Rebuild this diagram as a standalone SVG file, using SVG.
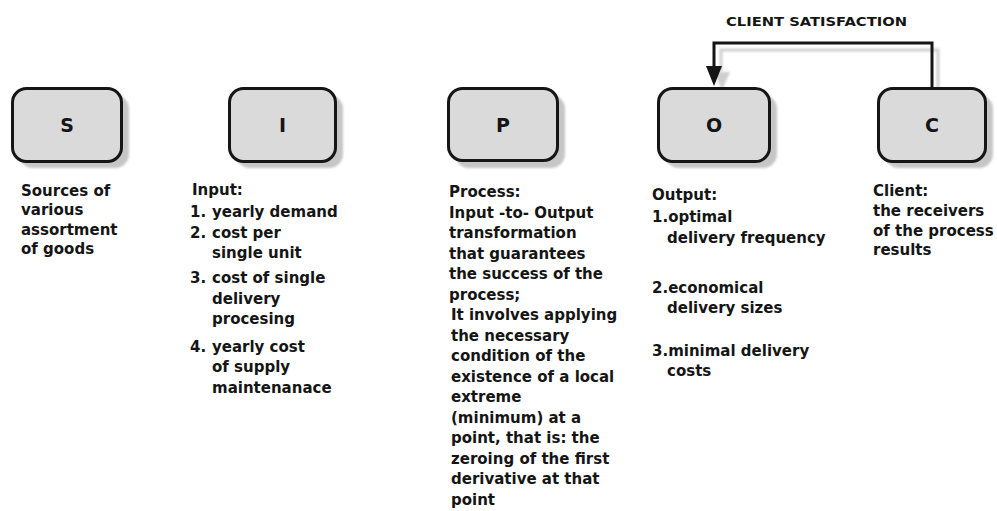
<svg xmlns="http://www.w3.org/2000/svg" width="997" height="511" viewBox="0 0 997 511">
<style>
.box{fill:#dadada;stroke:#151515;stroke-width:3}
.shadow{fill:#c6c6c6}
.letter{font-family:"DejaVu Sans",sans-serif;font-weight:bold;font-size:19px;fill:#151515;text-anchor:middle}
.t{font-family:"DejaVu Sans",sans-serif;font-weight:bold;font-size:15px;fill:#151515}
.lbl{font-family:"DejaVu Sans",sans-serif;font-weight:bold;font-size:13px;fill:#151515}
.conn{fill:none;stroke:#151515;stroke-width:3}
.connsh{fill:none;stroke:#cfcfcf;stroke-width:3}
</style>
<defs>
<filter id="blur" x="-20%" y="-20%" width="140%" height="140%"><feGaussianBlur stdDeviation="1.2"/></filter>
</defs>
<rect width="997" height="511" fill="#ffffff"/>

<g id="connectors">
<path class="connsh" filter="url(#blur)" d="M938,93 V50 H721 V72"/>
<path d="M714,72 L730,72 L722,90 Z" fill="#cfcfcf" filter="url(#blur)"/>
<path class="conn" d="M932,87 V43 H714 V66"/>
<path d="M706,66 L722,66 L714,86 Z" fill="#151515"/>
<text class="lbl" x="726" y="26" textLength="181" lengthAdjust="spacingAndGlyphs">CLIENT SATISFACTION</text>
</g>

<g id="node-S">
<rect class="shadow" filter="url(#blur)" x="19" y="95" width="110" height="73" rx="14"/>
<rect class="box" x="12.5" y="88.5" width="109" height="73" rx="14"/>
<text class="letter" x="67" y="132">S</text>
<text class="t" x="21" y="196">Sources of</text>
<text class="t" x="21" y="215">various</text>
<text class="t" x="21" y="234.5">assortment</text>
<text class="t" x="21" y="253.5">of goods</text>
</g>

<g id="node-I">
<rect class="shadow" filter="url(#blur)" x="236" y="95" width="107" height="73" rx="14"/>
<rect class="box" x="229.5" y="88.5" width="106" height="73" rx="14"/>
<text class="letter" x="282.5" y="132">I</text>
<text class="t" x="192" y="194.5">Input:</text>
<text class="t" x="190" y="216.5">1.</text><text class="t" x="212" y="216.5">yearly demand</text>
<text class="t" x="190" y="237.5">2.</text><text class="t" x="212" y="237.5">cost per</text>
<text class="t" x="212" y="258">single unit</text>
<text class="t" x="190" y="282.5">3.</text><text class="t" x="212" y="282.5">cost of single</text>
<text class="t" x="212" y="303.5">delivery</text>
<text class="t" x="212" y="324">procesing</text>
<text class="t" x="190" y="351.5">4.</text><text class="t" x="212" y="351.5">yearly cost</text>
<text class="t" x="212" y="372">of supply</text>
<text class="t" x="212" y="392.5">maintenanace</text>
</g>

<g id="node-P">
<rect class="shadow" filter="url(#blur)" x="455" y="95" width="110" height="73" rx="14"/>
<rect class="box" x="448.5" y="88.5" width="109" height="72" rx="14"/>
<text class="letter" x="503" y="132">P</text>
<text class="t" x="449" y="197">Process:</text>
<text class="t" x="449" y="217.5">Input -to- Output</text>
<text class="t" x="449" y="238">transformation</text>
<text class="t" x="449" y="258.5">that guarantees</text>
<text class="t" x="449" y="279">the success of the</text>
<text class="t" x="449" y="299.5">process;</text>
<text class="t" x="451" y="320">It involves applying</text>
<text class="t" x="451" y="340.5">the necessary</text>
<text class="t" x="451" y="361">condition of the</text>
<text class="t" x="451" y="381.5">existence of a local</text>
<text class="t" x="451" y="402">extreme</text>
<text class="t" x="451" y="422.5">(minimum) at a</text>
<text class="t" x="451" y="443">point, that is: the</text>
<text class="t" x="451" y="463.5">zeroing of the first</text>
<text class="t" x="451" y="484">derivative at that</text>
<text class="t" x="451" y="504.5">point</text>
</g>

<g id="node-O">
<rect class="shadow" filter="url(#blur)" x="665" y="95" width="112" height="73" rx="14"/>
<rect class="box" x="658.5" y="88.5" width="111" height="73" rx="14"/>
<text class="letter" x="714" y="132">O</text>
<text class="t" x="652" y="200">Output:</text>
<text class="t" x="652" y="222">1.optimal</text>
<text class="t" x="667" y="243">delivery frequency</text>
<text class="t" x="652" y="293">2.economical</text>
<text class="t" x="667" y="313">delivery sizes</text>
<text class="t" x="652" y="356">3.minimal delivery</text>
<text class="t" x="667" y="376">costs</text>
</g>

<g id="node-C">
<rect class="shadow" filter="url(#blur)" x="885" y="95" width="108" height="73" rx="14"/>
<rect class="box" x="878.5" y="88.5" width="107" height="73" rx="14"/>
<text class="letter" x="932" y="132">C</text>
<text class="t" x="873" y="196">Client:</text>
<text class="t" x="873" y="216">the receivers</text>
<text class="t" x="873" y="236">of the process</text>
<text class="t" x="873" y="255">results</text>
</g>
</svg>
